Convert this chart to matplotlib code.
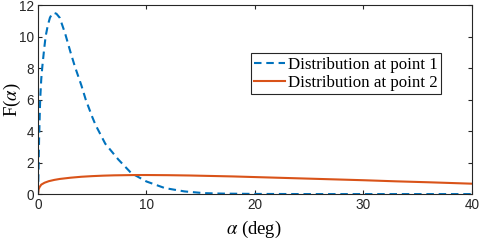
import numpy as np
import matplotlib.pyplot as plt

plt.rcParams['mathtext.fontset'] = 'stix'

# point 1 (dashed)
a1 = [0, 0.05, 0.1, 0.2, 0.3, 0.4, 0.55, 0.7, 0.9, 1.1, 1.3, 1.5, 1.7, 2.0, 2.5, 3.0, 3.4,
      4.0, 4.4, 5.0, 5.3, 6.2, 7.4, 8.6, 10.0, 11.7, 13.5, 15.3, 17.0, 20.0, 25.0, 30.0, 40.0]
f1 = [0, 1.5, 3.5, 6.0, 7.3, 8.1, 9.1, 10.0, 10.7, 11.2, 11.45, 11.5, 11.45, 11.2, 10.2, 9.0, 8.1,
      6.9, 6.0, 4.9, 4.4, 3.2, 2.2, 1.33, 0.8, 0.38, 0.17, 0.06, 0.03, 0.01, 0.0, 0.0, 0.0]

# point 2 (solid)
a2 = [0, 0.05, 0.15, 0.3, 0.6, 1.0, 1.5, 2.0, 3.0, 4.0, 5.0, 6.0, 7.0, 8.0, 9.0, 10.0,
      12.0, 14.0, 16.0, 18.0, 20.0, 22.0, 25.0, 28.0, 30.0, 33.0, 36.0, 40.0]
f2 = [0, 0.3, 0.45, 0.6, 0.72, 0.82, 0.9, 0.96, 1.04, 1.1, 1.14, 1.17, 1.19, 1.2, 1.21, 1.21,
      1.2, 1.18, 1.15, 1.12, 1.08, 1.04, 0.98, 0.92, 0.88, 0.81, 0.75, 0.66]

fig = plt.figure(figsize=(4.81, 2.42), dpi=100)
ax = fig.add_axes([0.079, 0.198, 0.902, 0.781])
ax.plot(a1, f1, '--', color='#0072BD', lw=1.5, dashes=(3.6, 2.3), label='Distribution at point 1')
ax.plot(a2, f2, '-', color='#D95319', lw=1.5, label='Distribution at point 2')

ax.set_xlim(0, 40)
ax.set_ylim(0, 12)
ax.set_xticks([0, 10, 20, 30, 40])
ax.set_yticks([0, 2, 4, 6, 8, 10, 12])
ax.tick_params(direction='in', top=True, right=True, labelsize=9.8, colors='#262626',
               length=3, pad=3)
for lab in ax.get_xticklabels() + ax.get_yticklabels():
    lab.set_family('Liberation Sans')
for s in ax.spines.values():
    s.set_color('#262626')
    s.set_linewidth(0.8)

# axis labels placed in figure pixels, like the reference
fig.text(253.5 / 481, 1 - 229 / 242, r'$\alpha$ (deg)', family='Liberation Serif',
         fontsize=13.5, ha='center', va='center')
fig.text(12 / 481, 1 - 100 / 242, r'F($\alpha$)', family='Liberation Serif',
         fontsize=13.5, ha='center', va='center', rotation=90)

leg = ax.legend(loc='upper right', bbox_to_anchor=(0.929, 0.745), borderaxespad=0,
                prop={'family': 'Liberation Serif', 'size': 12.2}, fancybox=False,
                framealpha=1, edgecolor='#262626', handlelength=1.85, handletextpad=0.15,
                borderpad=0.2, labelspacing=0.12)
leg.get_frame().set_linewidth(0.8)

plt.savefig('out.png')
